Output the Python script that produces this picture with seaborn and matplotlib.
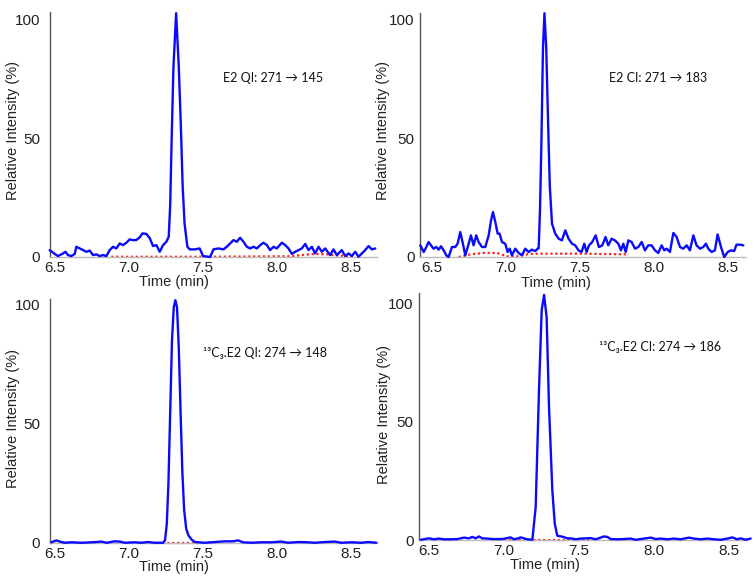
import matplotlib
matplotlib.use("Agg")
import matplotlib.pyplot as plt
from matplotlib.ticker import MultipleLocator
import seaborn as sns
import pandas as pd

# ---------------- data ----------------
# Panel A: E2 QI 271 -> 145
t_a = [6.464, 6.498, 6.520, 6.554, 6.570, 6.588, 6.610, 6.633, 6.644, 6.667, 6.689, 6.712,
       6.734, 6.757, 6.779, 6.802, 6.824, 6.847, 6.869, 6.892, 6.914, 6.937, 6.959, 6.982,
       7.004, 7.027, 7.049, 7.072, 7.090, 7.117, 7.140, 7.162, 7.185, 7.207, 7.230, 7.252,
       7.268, 7.278, 7.288, 7.300, 7.318, 7.336, 7.350, 7.362, 7.375, 7.394, 7.410, 7.444,
       7.477, 7.500, 7.548, 7.570, 7.604, 7.638, 7.660, 7.683, 7.705, 7.728, 7.750, 7.773,
       7.796, 7.818, 7.841, 7.863, 7.886, 7.908, 7.931, 7.953, 7.976, 7.998, 8.032, 8.055,
       8.077, 8.100, 8.122, 8.145, 8.167, 8.190, 8.212, 8.235, 8.257, 8.280, 8.302, 8.325,
       8.358, 8.381, 8.404, 8.437, 8.460, 8.483, 8.505, 8.528, 8.550, 8.573, 8.595, 8.618,
       8.640, 8.663]
i_a = [2.9, 1.3, 0.4, 1.5, 2.2, 0.8, 0.4, 1.3, 4.3, 3.6, 2.9, 2.2,
       2.7, 0.8, 1.1, 0.4, 0.8, 0.4, 2.9, 4.3, 3.6, 5.7, 5.0, 6.0,
       7.4, 7.1, 7.1, 8.3, 9.9, 9.7, 7.9, 4.6, 5.0, 2.2, 5.0, 6.4,
       8.5, 22.0, 50.0, 80.0, 102.5, 80.0, 55.0, 30.0, 14.0, 4.3, 3.2, 3.2,
       3.6, 0.4, 0.0, 3.2, 3.6, 3.2, 4.3, 5.7, 7.1, 6.4, 8.1, 6.4,
       4.3, 3.6, 4.3, 3.6, 5.0, 6.0, 5.0, 2.9, 4.3, 3.6, 6.0, 5.0,
       3.6, 1.3, 2.2, 2.9, 3.6, 5.5, 2.9, 4.3, 1.5, 4.3, 2.2, 3.6,
       0.8, 3.2, 0.8, 2.9, 0.4, 1.5, 0.4, 2.2, 0.1, 1.5, 2.9, 4.6,
       3.2, 3.6]
tr_a = [6.880, 7.200, 7.500, 7.800, 8.100, 8.180, 8.260, 8.340, 8.420, 8.530]
ir_a = [0.1, 0.1, 0.1, 0.2, 0.3, 0.9, 1.3, 1.1, 0.6, 0.3]

# Panel B: E2 CI 271 -> 183
t_b = [6.421, 6.444, 6.462, 6.477, 6.493, 6.511, 6.529, 6.545, 6.561, 6.579, 6.597, 6.612,
       6.635, 6.657, 6.673, 6.691, 6.709, 6.725, 6.748, 6.763, 6.781, 6.799, 6.815, 6.838,
       6.860, 6.883, 6.899, 6.912, 6.928, 6.944, 6.957, 6.973, 6.995, 7.011, 7.025, 7.040,
       7.063, 7.085, 7.108, 7.130, 7.153, 7.175, 7.198, 7.214, 7.221, 7.230, 7.240, 7.250,
       7.260, 7.272, 7.284, 7.296, 7.311, 7.333, 7.356, 7.378, 7.401, 7.423, 7.446, 7.468,
       7.490, 7.511, 7.529, 7.545, 7.561, 7.583, 7.606, 7.628, 7.651, 7.673, 7.691, 7.714,
       7.736, 7.759, 7.777, 7.793, 7.809, 7.827, 7.849, 7.872, 7.894, 7.917, 7.939, 7.962,
       7.984, 8.007, 8.029, 8.052, 8.070, 8.086, 8.108, 8.131, 8.153, 8.176, 8.198, 8.221,
       8.243, 8.266, 8.288, 8.311, 8.333, 8.351, 8.367, 8.390, 8.412, 8.430, 8.453, 8.475,
       8.498, 8.520, 8.542, 8.558, 8.581, 8.604]
i_b = [4.9, 2.1, 4.2, 6.3, 4.9, 3.5, 4.2, 3.1, 4.5, 2.8, 0.7, 0.0,
       4.2, 4.2, 5.6, 10.5, 5.6, 0.7, 5.6, 9.1, 4.9, 9.1, 6.3, 4.2,
       4.2, 9.1, 15.4, 18.9, 14.7, 9.8, 9.8, 6.3, 5.6, 2.1, 3.5, 0.7,
       3.5, 1.7, 0.7, 3.5, 2.1, 3.1, 2.5, 3.5, 3.6, 20.0, 50.0, 88.0,
       102.5, 88.0, 58.0, 30.0, 14.0, 9.8, 7.7, 7.0, 11.2, 7.7, 5.6, 4.9,
       2.8, 2.1, 5.6, 2.1, 4.9, 6.3, 9.1, 4.2, 4.9, 8.4, 4.9, 7.7,
       7.0, 5.6, 2.8, 5.6, 2.1, 7.0, 6.3, 3.5, 4.2, 6.3, 2.8, 4.9,
       4.9, 2.8, 1.7, 4.9, 2.8, 3.5, 2.1, 10.1, 8.4, 4.2, 3.5, 4.9,
       2.8, 9.1, 4.9, 3.5, 4.2, 5.6, 3.5, 2.1, 2.8, 9.5, 4.2, 0.0,
       2.1, 2.8, 2.5, 5.2, 5.2, 4.9]
tr_b = [6.680, 6.760, 6.850, 6.940, 7.010, 7.070, 7.140, 7.190, 7.520, 7.830]
ir_b = [0.0, 1.1, 1.7, 1.7, 0.2, 0.2, 1.1, 1.4, 1.4, 1.1]

# Panel C: 13C3-E2 QI 274 -> 148
t_c = [6.475, 6.509, 6.531, 6.565, 6.610, 6.678, 6.779, 6.812, 6.848, 6.903, 6.937, 6.971,
       7.038, 7.083, 7.128, 7.173, 7.230, 7.243, 7.255, 7.266, 7.278, 7.290, 7.302, 7.313,
       7.324, 7.336, 7.348, 7.360, 7.372, 7.386, 7.401, 7.423, 7.446, 7.511, 7.579, 7.646,
       7.703, 7.736, 7.770, 7.826, 7.894, 7.962, 8.029, 8.074, 8.142, 8.209, 8.254, 8.321,
       8.389, 8.434, 8.501, 8.569, 8.615, 8.671]
i_c = [0.3, 1.1, 0.6, 0.1, 0.3, 0.1, 0.4, 0.6, 0.1, 0.7, 0.6, 0.1,
       0.3, 0.1, 0.4, 0.1, 0.1, 1.1, 8.0, 25.0, 55.0, 85.0, 99.0, 102.0,
       99.0, 82.0, 55.0, 30.0, 14.0, 6.0, 3.2, 1.4, 0.4, 0.1, 0.4, 0.7,
       0.7, 1.1, 0.3, 0.1, 0.3, 0.3, 0.6, 0.1, 0.4, 0.3, 0.1, 0.4,
       0.6, 0.1, 0.3, 0.1, 0.4, 0.1]
tr_c = [7.060, 7.470]
ir_c = [0.1, 0.1]

# Panel D: 13C3-E2 CI 274 -> 186
t_d = [6.444, 6.500, 6.533, 6.566, 6.600, 6.644, 6.689, 6.733, 6.766, 6.789, 6.811, 6.833,
       6.855, 6.889, 6.922, 6.989, 7.044, 7.066, 7.089, 7.111, 7.133, 7.155, 7.189, 7.211,
       7.233, 7.251, 7.267, 7.284, 7.300, 7.322, 7.338, 7.355, 7.389, 7.422, 7.444, 7.478,
       7.511, 7.578, 7.611, 7.644, 7.666, 7.689, 7.711, 7.755, 7.800, 7.844, 7.878, 7.978,
       8.011, 8.044, 8.089, 8.133, 8.178, 8.233, 8.266, 8.311, 8.355, 8.400, 8.444, 8.489,
       8.522, 8.555, 8.577, 8.611, 8.644]
i_d = [0.1, 0.7, 0.3, 0.6, 0.3, 0.3, 0.4, 1.0, 0.7, 1.3, 0.7, 1.5,
       0.7, 0.6, 0.4, 0.4, 1.1, 0.3, 0.6, 1.1, 0.7, 0.3, 0.1, 14.0,
       63.0, 97.0, 103.5, 94.0, 56.0, 21.0, 7.0, 1.8, 1.4, 0.7, 0.7, 0.3,
       0.6, 0.8, 0.3, 1.0, 1.5, 1.3, 0.4, 0.3, 0.4, 0.6, 0.1, 1.0,
       0.4, 0.6, 0.3, 0.6, 0.3, 1.0, 0.6, 0.3, 0.6, 0.3, 0.1, 0.6,
       1.1, 0.3, 0.7, 0.1, 0.6]
tr_d = [7.000, 7.570]
ir_d = [0.1, 0.1]

labels = ["E2 QI: 271 \u2192 145", "E2 CI: 271 \u2192 183",
          "\u00b9\u00b3C\u2083.E2 QI: 274 \u2192 148", "\u00b9\u00b3C\u2083.E2 CI: 274 \u2192 186"]

x_ticks = [6.5, 7.0, 7.5, 8.0, 8.5]
y_ticks = [0, 50, 100]

# ---------------- figure ----------------
sns.set_style("white")
plt.rcParams['font.family'] = ['Liberation Sans', 'DejaVu Sans']

W, H = 754, 580
fig = plt.figure(figsize=(W / 100, H / 100), dpi=100)


def px_axes(left, right, top, bottom):
    return fig.add_axes([left / W, 1 - bottom / H, (right - left) / W, (bottom - top) / H])


panels = [
    dict(box=(50, 377, 12, 257), xlim=(6.466, 8.675), ylim=(0, 103.0), t=t_a, i=i_a, tr=tr_a, ir=ir_a,
         ypad=4, ylab=(-0.113, 0.518), xlab=(0.379, -0.102), txt=(223, 78)),
    dict(box=(420, 746, 13, 257), xlim=(6.419, 8.622), ylim=(0, 102.6), t=t_b, i=i_b, tr=tr_b, ir=ir_b,
         ypad=0.8, ylab=(-0.113, 0.518), xlab=(0.417, -0.107), txt=(609, 78)),
    dict(box=(50, 377, 299, 543), xlim=(6.466, 8.675), ylim=(0, 102.5), t=t_c, i=i_c, tr=tr_c, ir=ir_c,
         ypad=4, ylab=(-0.113, 0.51), xlab=(0.379, -0.100), txt=(203, 353)),
    dict(box=(419, 747, 293, 540), xlim=(6.433, 8.620), ylim=(0, 104.3), t=t_d, i=i_d, tr=tr_d, ir=ir_d,
         ypad=0.8, ylab=(-0.107, 0.51), xlab=(0.384, -0.103), txt=(599, 347)),
]

for k, p in enumerate(panels):
    ax = px_axes(*p["box"])
    df = pd.DataFrame({"time": p["t"], "intensity": p["i"]})
    dr = pd.DataFrame({"time": p["tr"], "intensity": p["ir"]})
    sns.lineplot(data=dr, x="time", y="intensity", ax=ax, color="#ff2020", lw=1.6,
                 linestyle=(0, (1, 1.2)), estimator=None, zorder=2)
    sns.lineplot(data=df, x="time", y="intensity", ax=ax, color="#0a0aff", lw=1.7,
                 estimator=None, zorder=3)
    for ln in ax.lines:
        ln.set_clip_on(False)
    ax.set_xlim(*p["xlim"])
    ax.set_ylim(*p["ylim"])
    ax.set_xticks(x_ticks)
    ax.set_xticklabels([f"{v:.1f}" for v in x_ticks])
    ax.set_yticks(y_ticks)
    ax.set_yticklabels([str(v) for v in y_ticks])
    ax.yaxis.set_minor_locator(MultipleLocator(2))
    ax.xaxis.set_minor_locator(MultipleLocator(0.1))
    ax.tick_params(axis="y", which="major", length=3, width=0.8, color="#555555",
                   labelsize=11, pad=p["ypad"], labelcolor="#222222")
    ax.tick_params(axis="y", which="minor", length=1.5, width=0.5, color="#777777")
    ax.tick_params(axis="x", which="major", length=0, labelsize=11, pad=3, labelcolor="#222222")
    ax.tick_params(axis="x", which="minor", length=2, width=0.5, color="#aaaaaa")
    for s in ["top", "right"]:
        ax.spines[s].set_visible(False)
    ax.spines["left"].set_color("#555555")
    ax.spines["left"].set_linewidth(1.0)
    ax.spines["bottom"].set_color("#bbbbbb")
    ax.spines["bottom"].set_linewidth(1.0)
    ax.set_facecolor("white")

    ax.set_ylabel("Relative Intensity (%)", fontsize=10.5, color="#222222")
    ax.yaxis.set_label_coords(*p["ylab"])
    ax.yaxis.label.set_va("center")
    ax.yaxis.label.set_ha("center")
    ax.set_xlabel("Time (min)", fontsize=10.5, color="#222222")
    ax.xaxis.set_label_coords(*p["xlab"])
    ax.xaxis.label.set_va("center")

    tx, ty = p["txt"]
    fig.text(tx / W, 1 - ty / H, labels[k], ha="left", va="center", fontsize=9,
             family=["Lato", "DejaVu Sans"], color="#111111")

fig.savefig("out.png", dpi=100, facecolor="white")
